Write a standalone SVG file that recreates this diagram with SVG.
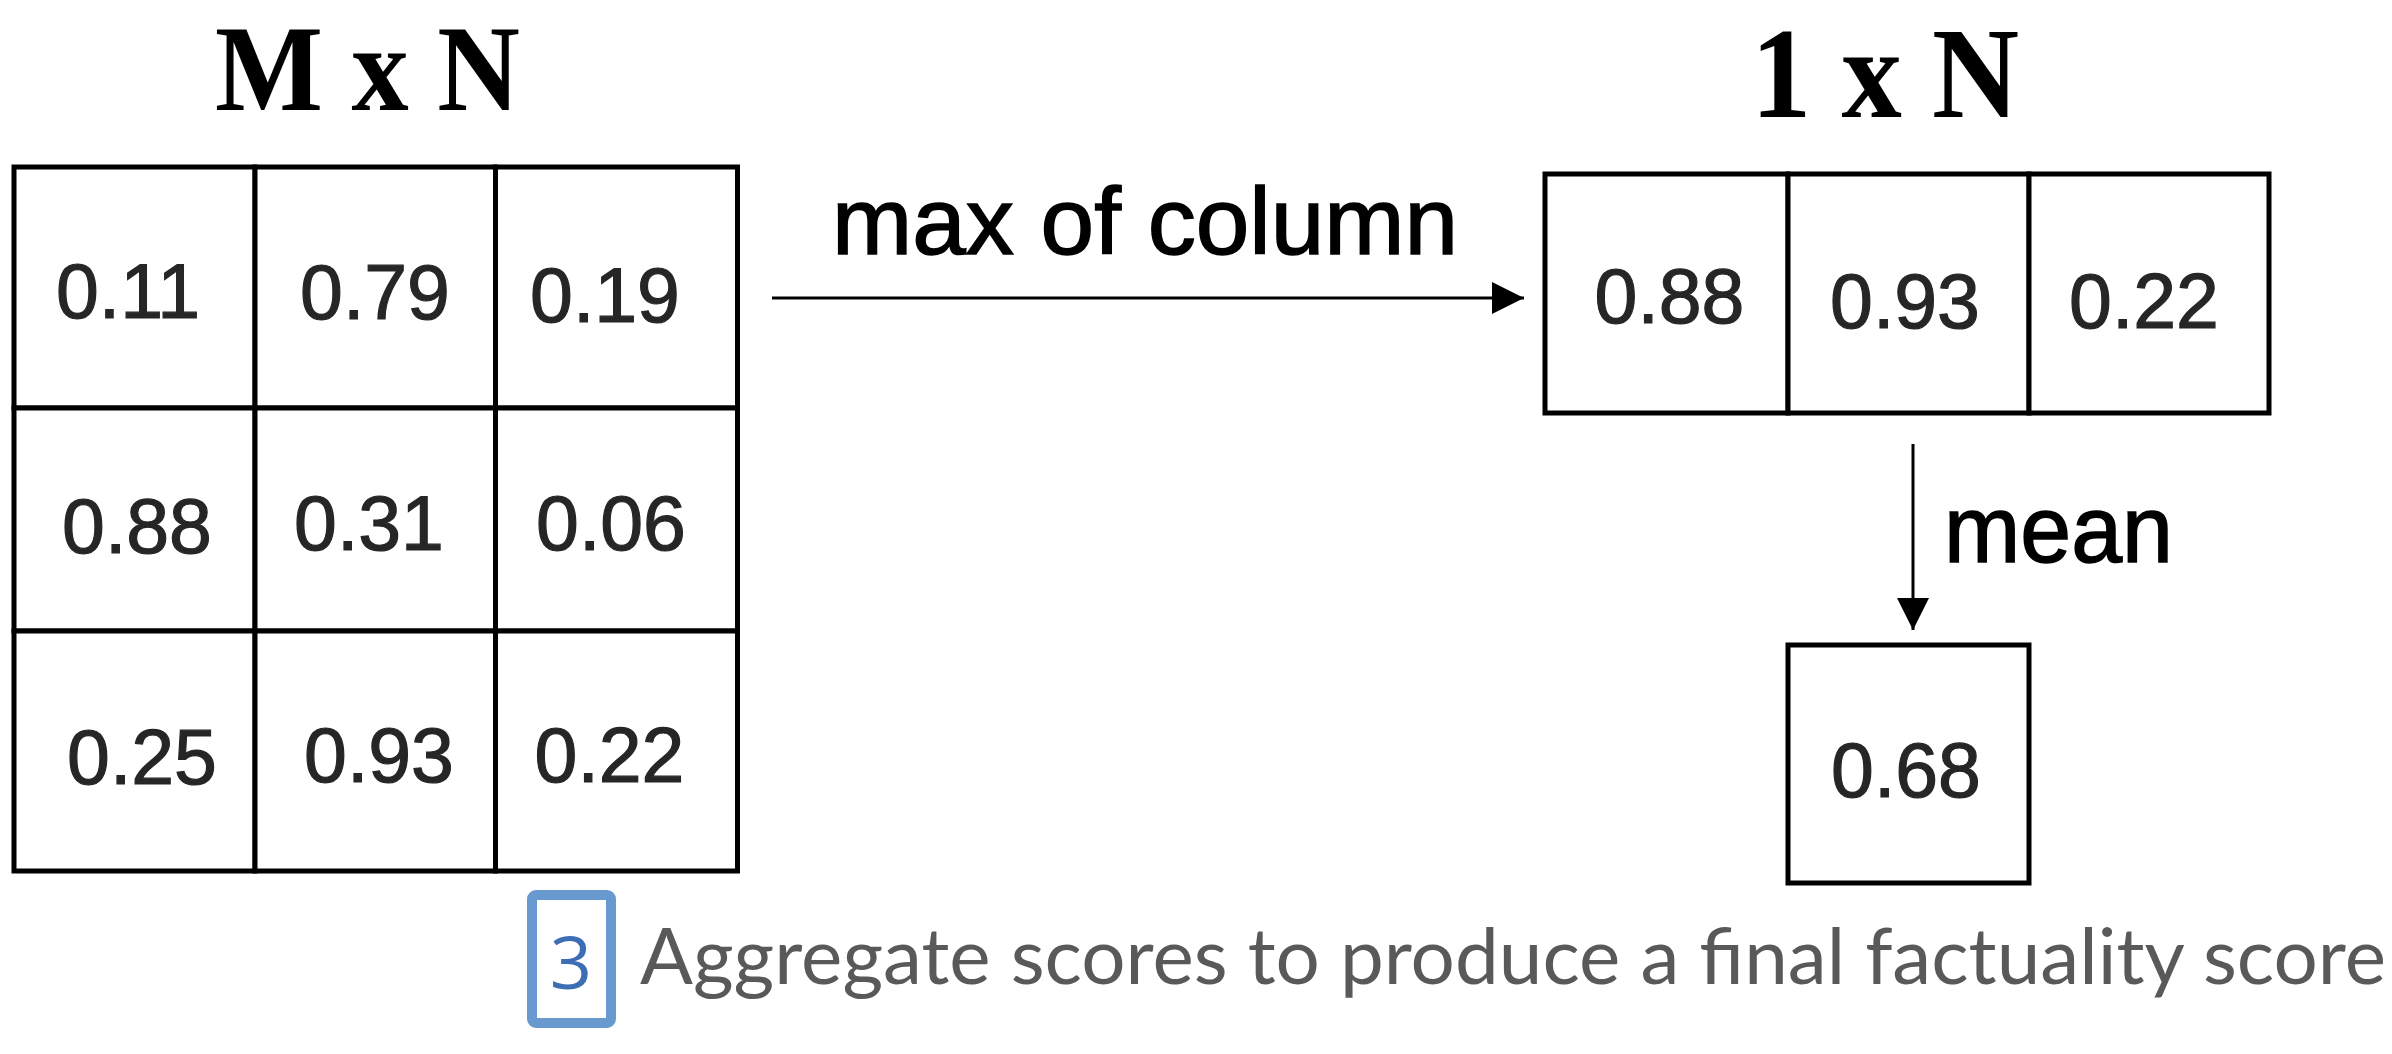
<svg xmlns="http://www.w3.org/2000/svg" width="2392" height="1054" viewBox="0 0 2392 1054">
  <style>
    .cell { fill: #ffffff; stroke: #000000; stroke-width: 5; }
    .num { font-family: "Liberation Sans", Arial, sans-serif; font-size: 77px; fill: #262626; stroke: #262626; stroke-width: 1.2; text-anchor: middle; }
    .title { font-family: "Liberation Serif", "DejaVu Serif", serif; font-weight: bold; fill: #000000; text-anchor: middle; }
    .lbl { font-family: "Liberation Sans", Arial, sans-serif; font-size: 94px; fill: #000000; stroke: #000000; stroke-width: 1.5; }
    .conn { stroke: #000000; stroke-width: 3; fill: none; }
    .caption { font-family: Lato, "Open Sans", sans-serif; font-size: 78px; fill: #595959; }
  </style>
  <defs>
    <marker id="arrow" markerUnits="userSpaceOnUse" markerWidth="32" markerHeight="32" viewBox="0 0 31 31" refX="31" refY="15.5" orient="auto">
      <path d="M0,0 L31,15.5 L0,31 Z" fill="#000000"/>
    </marker>
  </defs>
  <rect x="0" y="0" width="2392" height="1054" fill="#ffffff"/>

  <g id="matrix">
    <text class="title" x="367.5" y="110" font-size="122" textLength="305" lengthAdjust="spacingAndGlyphs">M x N</text>
    <g id="m-r1c1"><rect class="cell" x="14" y="167" width="241" height="241"/><text class="num" x="128" y="318">0.11</text></g>
    <g id="m-r1c2"><rect class="cell" x="255" y="167" width="240.5" height="241"/><text class="num" x="375" y="319">0.79</text></g>
    <g id="m-r1c3"><rect class="cell" x="495.5" y="167" width="242" height="241"/><text class="num" x="605" y="322">0.19</text></g>
    <g id="m-r2c1"><rect class="cell" x="14" y="408" width="241" height="223"/><text class="num" x="137" y="553">0.88</text></g>
    <g id="m-r2c2"><rect class="cell" x="255" y="408" width="240.5" height="223"/><text class="num" x="369" y="550">0.31</text></g>
    <g id="m-r2c3"><rect class="cell" x="495.5" y="408" width="242" height="223"/><text class="num" x="611" y="550">0.06</text></g>
    <g id="m-r3c1"><rect class="cell" x="14" y="631" width="241" height="240"/><text class="num" x="142" y="784">0.25</text></g>
    <g id="m-r3c2"><rect class="cell" x="255" y="631" width="240.5" height="240"/><text class="num" x="379" y="782">0.93</text></g>
    <g id="m-r3c3"><rect class="cell" x="495.5" y="631" width="242" height="240"/><text class="num" x="609.5" y="782">0.22</text></g>
  </g>

  <g id="vector">
    <text class="title" x="1885" y="117" font-size="130" textLength="268" lengthAdjust="spacingAndGlyphs">1 x N</text>
    <g id="v-c1"><rect class="cell" x="1545" y="174" width="243" height="239"/><text class="num" x="1669.5" y="323">0.88</text></g>
    <g id="v-c2"><rect class="cell" x="1788" y="174" width="241" height="239"/><text class="num" x="1905" y="328">0.93</text></g>
    <g id="v-c3"><rect class="cell" x="2029" y="174" width="240" height="239"/><text class="num" x="2144" y="328">0.22</text></g>
  </g>

  <g id="result">
    <rect class="cell" x="1788" y="645" width="241" height="238"/>
    <text class="num" x="1906" y="797">0.68</text>
  </g>

  <g id="connectors">
    <line class="conn" x1="772" y1="298" x2="1524" y2="298" marker-end="url(#arrow)"/>
    <text class="lbl" x="832" y="254" textLength="626" lengthAdjust="spacingAndGlyphs">max of column</text>
    <line class="conn" x1="1913" y1="444" x2="1913" y2="630" marker-end="url(#arrow)"/>
    <text class="lbl" x="1944" y="562" textLength="229" lengthAdjust="spacingAndGlyphs">mean</text>
  </g>

  <g id="caption">
    <rect x="532" y="895" width="79" height="128" rx="4" fill="none" stroke="#6899cf" stroke-width="10"/>
    <text x="571" y="989" font-family="'Open Sans', Lato, sans-serif" font-size="74" fill="#3d6db5" text-anchor="middle">3</text>
    <text class="caption" x="640" y="984" textLength="1746" lengthAdjust="spacingAndGlyphs">Aggregate scores to produce a final factuality score</text>
  </g>
</svg>
